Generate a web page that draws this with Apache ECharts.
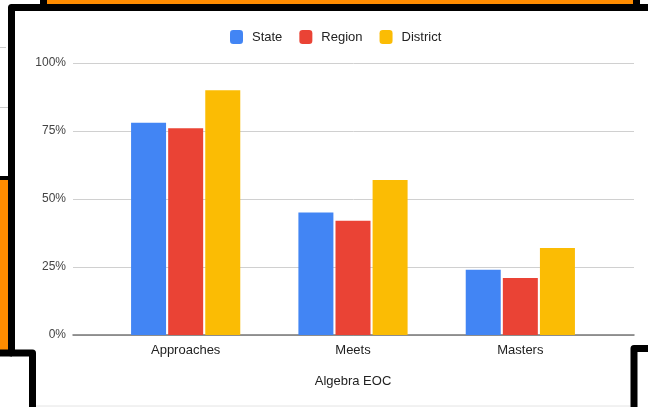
<!DOCTYPE html>
<html>
<head>
<meta charset="utf-8">
<script src="https://cdn.jsdelivr.net/npm/echarts@6/dist/echarts.min.js"></script>
<style>html,body{margin:0;padding:0;background:#fff;}#c{width:648px;height:407px;}</style>
</head>
<body>
<div id="c"></div>
<script>
const categories = ['Approaches', 'Meets', 'Masters'];
const stateValues = [78, 45, 24];
const regionValues = [76, 42, 21];
const districtValues = [90, 57, 32];
const yTicks = [0, 25, 50, 75, 100];
const axisTitle = 'Algebra EOC';

const FONT = "'Liberation Sans', Arial, sans-serif";
const chart = echarts.init(document.getElementById('c'));
const blk = '#000';
const org = '#ff8c00';
chart.setOption({
  animation: false,
  backgroundColor: '#fff',
  textStyle: { fontFamily: FONT },
  legend: {
    top: 25, left: 225,
    icon: 'roundRect', itemWidth: 13, itemHeight: 14, itemGap: 17,
    textStyle: { fontSize: 13, color: '#222', fontFamily: FONT, padding: [0, 0, 0, 4] },
    data: ['State', 'Region', 'District']
  },
  grid: [
    { left: 73, right: 14, top: 63, bottom: 72 },
    { left: 102, right: 44, top: 63, bottom: 72 }
  ],
  xAxis: [
    { gridIndex: 0, type: 'value', min: 0, max: 1, axisLabel: { show: false }, axisTick: { show: false },
      splitLine: { show: false }, axisLine: { show: true, lineStyle: { color: '#777', width: 1.5 } } },
    { gridIndex: 1, type: 'category', data: categories, axisLine: { show: false }, axisTick: { show: false },
      axisLabel: { fontSize: 13, color: '#222', margin: 9, fontFamily: FONT },
      name: axisTitle, nameLocation: 'middle', nameGap: 40,
      nameTextStyle: { fontSize: 13, color: '#222', fontFamily: FONT } }
  ],
  yAxis: [
    { gridIndex: 0, type: 'value', min: yTicks[0], max: yTicks[yTicks.length - 1], interval: 25,
      axisLine: { show: false }, axisTick: { show: false },
      axisLabel: { formatter: '{value}%', fontSize: 12, color: '#444', margin: 7, fontFamily: FONT },
      splitLine: { lineStyle: { color: '#d0d0d0', width: 1 } } },
    { gridIndex: 1, type: 'value', min: 0, max: 100, show: false, splitLine: { show: false } }
  ],
  series: [
    { name: 'State', type: 'bar', xAxisIndex: 1, yAxisIndex: 1, data: stateValues, barWidth: 35, barGap: '6%', itemStyle: { color: '#4285F4' } },
    { name: 'Region', type: 'bar', xAxisIndex: 1, yAxisIndex: 1, data: regionValues, barWidth: 35, barGap: '6%', itemStyle: { color: '#EA4335' } },
    { name: 'District', type: 'bar', xAxisIndex: 1, yAxisIndex: 1, data: districtValues, barWidth: 35, barGap: '6%', itemStyle: { color: '#FBBC04' } }
  ],
  graphic: [
    { type: 'rect', shape: { x: 40, y: -10, width: 600, height: 21 }, style: { fill: blk }, z: 100 },
    { type: 'rect', shape: { x: 47, y: -10, width: 586, height: 14 }, style: { fill: org }, z: 101 },
    { type: 'rect', shape: { x: 0, y: 12, width: 8, height: 340 }, style: { fill: '#fff' }, z: 99 },
    { type: 'line', shape: { x1: 0, y1: 47.5, x2: 6, y2: 47.5 }, style: { stroke: '#ccc', lineWidth: 1 }, z: 100 },
    { type: 'line', shape: { x1: 0, y1: 107.5, x2: 8, y2: 107.5 }, style: { stroke: '#ccc', lineWidth: 1 }, z: 100 },
    { type: 'rect', shape: { x: 0, y: 176, width: 9, height: 4 }, style: { fill: blk }, z: 100 },
    { type: 'rect', shape: { x: 0, y: 180, width: 8, height: 170 }, style: { fill: org }, z: 100 },
    { type: 'polyline', shape: { points: [[660, 7.5], [11.5, 7.5], [11.5, 353], [32.5, 353], [32.5, 420]] },
      style: { stroke: blk, lineWidth: 7, fill: null, lineJoin: 'round' }, z: 102 },
    { type: 'line', shape: { x1: 0, y1: 353, x2: 12, y2: 353 }, style: { stroke: blk, lineWidth: 7 }, z: 102 },
    { type: 'polyline', shape: { points: [[660, 348.5], [634, 348.5], [634, 420]] },
      style: { stroke: blk, lineWidth: 7, fill: null, lineJoin: 'round' }, z: 102 },
    { type: 'line', shape: { x1: 36, y1: 406, x2: 630, y2: 406 }, style: { stroke: '#e4e4e4', lineWidth: 1 }, z: 100 }
  ]
});
</script>
</body>
</html>
